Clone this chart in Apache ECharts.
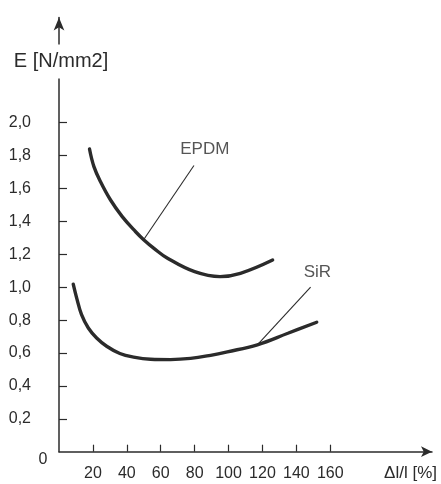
<!DOCTYPE html>
<html><head><meta charset="utf-8">
<script src="https://cdn.jsdelivr.net/npm/echarts@6/dist/echarts.min.js"></script>
<style>html,body{margin:0;padding:0;background:#fff}#c{width:441px;height:484px}</style>
</head><body><div id="c"></div>
<script>
var xTicks = [20, 40, 60, 80, 100, 120, 140, 160];
var yTicks = [0.2, 0.4, 0.6, 0.8, 1.0, 1.2, 1.4, 1.6, 1.8, 2.0];
var epdmX = [18, 20.6, 24.5, 30.4, 37.3, 45.2, 50.1, 56, 64, 80, 95, 107, 126];
var epdmY = [1.84, 1.733, 1.641, 1.530, 1.429, 1.337, 1.287, 1.236, 1.176, 1.094, 1.064, 1.084, 1.165];
var sirX = [8.4, 10.4, 13.3, 17.3, 22.2, 28.1, 35.9, 44, 54, 65.8, 77.6, 89.4, 99.3, 117, 135, 152];
var sirY = [1.018, 0.935, 0.833, 0.752, 0.691, 0.641, 0.597, 0.575, 0.562, 0.560, 0.567, 0.586, 0.607, 0.65, 0.72, 0.787];
var epdmLeaderX = [50, 79.6];
var epdmLeaderY = [1.29, 1.74];
var sirLeaderX = [117, 148.4];
var sirLeaderY = [0.65, 1.0];
var labelNames = ['EPDM', 'SiR'];
var labelX = [86, 152.4];
var labelY = [1.84, 1.09];
var yName = 'E [N/mm2]';
var xName = 'Δl/l [%]';

function zip(a, b) { return a.map(function (v, i) { return [v, b[i]]; }); }
var FONT = "'Liberation Sans', Arial, sans-serif";
var INK = '#2b2b2b';

var chart = echarts.init(document.getElementById('c'));
chart.setOption({
  animation: false,
  backgroundColor: '#fff',
  grid: { left: 59, right: 9, top: 17.4, bottom: 32.3 },
  xAxis: {
    type: 'value', min: 0, max: 220,
    splitLine: { show: false },
    axisLine: { lineStyle: { color: INK, width: 1.5 }, symbol: ['none', 'arrow'], symbolSize: [8, 11] },
    axisTick: { inside: true, length: 7, lineStyle: { color: INK, width: 1.2 }, customValues: xTicks },
    axisLabel: { customValues: xTicks, color: INK, fontFamily: FONT, fontSize: 16, margin: 14 }
  },
  yAxis: {
    type: 'value', min: 0, max: 2.64,
    splitLine: { show: false },
    axisLine: { lineStyle: { color: INK, width: 1.5 }, symbol: ['none', 'arrow'], symbolSize: [8, 13] },
    axisTick: { inside: true, length: 8, lineStyle: { color: INK, width: 1.2 }, customValues: yTicks },
    axisLabel: { customValues: yTicks, color: INK, fontFamily: FONT, fontSize: 16, margin: 28,
      formatter: function (v) { return v.toFixed(1).replace('.', ','); } }
  },
  series: [
    { type: 'line', data: zip(epdmX, epdmY), smooth: 0.4, symbol: 'none',
      lineStyle: { color: INK, width: 3.4, cap: 'round' } },
    { type: 'line', data: zip(sirX, sirY), smooth: 0.4, symbol: 'none',
      lineStyle: { color: INK, width: 3.4, cap: 'round' } },
    { type: 'line', data: zip(epdmLeaderX, epdmLeaderY), symbol: 'none',
      lineStyle: { color: INK, width: 1.1 } },
    { type: 'line', data: zip(sirLeaderX, sirLeaderY), symbol: 'none',
      lineStyle: { color: INK, width: 1.1 } },
    { type: 'scatter', symbolSize: 0,
      data: labelNames.map(function (n, i) { return { name: n, value: [labelX[i], labelY[i]] }; }),
      label: { show: true, position: 'inside', formatter: '{b}', color: INK, fontFamily: FONT, fontSize: 17 } }
  ]
});
var o = chart.convertToPixel({ gridIndex: 0 }, [0, 0]);
var t = chart.convertToPixel({ gridIndex: 0 }, [0, 2.64]);
chart.setOption({ graphic: [
  { type: 'text', z: 100, x: o[0] - 16, y: o[1] + 8,
    style: { text: '0', fill: INK, font: '16px ' + FONT, textAlign: 'center', textVerticalAlign: 'middle' } },
  { type: 'text', z: 100, x: 437, y: o[1] + 22,
    style: { text: xName, fill: INK, font: '17px ' + FONT, textAlign: 'right', textVerticalAlign: 'middle' } },
  { type: 'text', z: 100, x: t[0] + 2, y: t[1] + 44,
    style: { text: yName, fill: INK, font: '20px ' + FONT, textAlign: 'center', textVerticalAlign: 'middle',
      backgroundColor: '#fff', padding: [7, 3, 7, 3] } }
] });
</script></body></html>
